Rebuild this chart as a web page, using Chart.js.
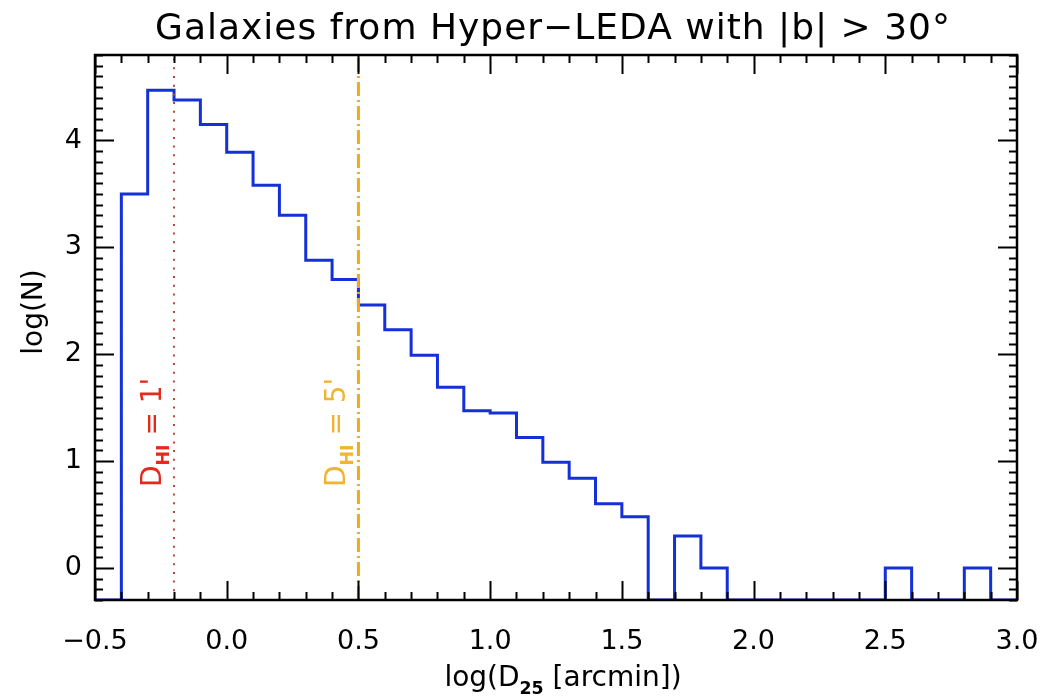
<!DOCTYPE html>
<html>
<head>
<meta charset="utf-8">
<title>Hyper-LEDA D25</title>
<script src="https://cdn.jsdelivr.net/npm/chart.js@4.4.1/dist/chart.umd.min.js"></script>
<style>
    html, body { margin: 0; padding: 0; background: #fff; }
    #wrap { width: 1046px; height: 696px; }
</style>
</head>
<body>
<div id="wrap"><canvas id="histo"></canvas></div>
<script>
// bins de log(D25) com largura 0.1 (bordas esquerdas + borda final)
const binEdges = [-0.4, -0.3, -0.2, -0.1, 0.0, 0.1, 0.2, 0.3, 0.4, 0.5, 0.6, 0.7,
    0.8, 0.9, 1.0, 1.1, 1.2, 1.3, 1.4, 1.5, 1.6, 1.7, 1.8, 1.9, 2.0, 2.1, 2.2,
    2.3, 2.4, 2.5, 2.6, 2.7, 2.8, 2.9, 3.0];
// log(N) por bin, null = bin vazio
const logN = [3.50, 4.47, 4.38, 4.15, 3.89, 3.58, 3.30, 2.88, 2.70, 2.46, 2.23,
    1.99, 1.69, 1.47, 1.45, 1.22, 0.99, 0.84, 0.60, 0.48, null, 0.30, 0.00,
    null, null, null, null, null, null, 0.00, null, null, 0.00, null];

const xTicks = [-0.5, 0.0, 0.5, 1.0, 1.5, 2.0, 2.5, 3.0];
const yTicks = [0, 1, 2, 3, 4];
const X_MIN = -0.5, X_MAX = 3.0;
const Y_MIN = -0.3, Y_MAX = 4.8;

// limites D_HI = 1' e 5'
const hiLimits = [-0.2, 0.5];
const hiLabels = ['1\'', '5\''];

const TITLE = 'Galaxies from Hyper\u2212LEDA with |b| > 30\u00b0';
const FONT = '"DejaVu Sans", "Noto Sans", sans-serif';

// pontos do histograma em degraus (bins vazios caem no fundo do eixo)
function histoPoints() {
    const pts = [{ x: X_MIN, y: Y_MIN }];
    for (let i = 0; i < logN.length; i++) {
        pts.push({ x: binEdges[i], y: logN[i] === null ? Y_MIN : logN[i] });
    }
    const last = logN[logN.length - 1];
    pts.push({ x: binEdges[binEdges.length - 1], y: last === null ? Y_MIN : last });
    return pts;
}

function vline(x) {
    return [{ x: x, y: Y_MIN }, { x: x, y: Y_MAX }];
}

// moldura e ticks para dentro nos 4 lados
const framePlugin = {
    id: 'frame',
    afterDatasetsDraw(chart) {
        const { ctx, chartArea: a, scales } = chart;
        const xs = scales.x, ys = scales.y;
        ctx.save();
        ctx.strokeStyle = '#000';
        ctx.lineWidth = 2;
        ctx.beginPath();
        for (let k = -5; k <= 30; k++) {
            const v = k / 10;
            const px = Math.round(xs.getPixelForValue(v)) + 0.5;
            const len = (k % 5 === 0) ? 19 : 8;
            ctx.moveTo(px, a.bottom); ctx.lineTo(px, a.bottom - len);
            ctx.moveTo(px, a.top); ctx.lineTo(px, a.top + len);
        }
        for (let k = -3; k <= 48; k++) {
            const v = k / 10;
            const py = Math.round(ys.getPixelForValue(v)) + 0.5;
            const len = (k % 10 === 0) ? 19 : 8;
            ctx.moveTo(a.left, py); ctx.lineTo(a.left + len, py);
            ctx.moveTo(a.right, py); ctx.lineTo(a.right - len, py);
        }
        ctx.stroke();
        ctx.lineWidth = 2.5;
        ctx.strokeRect(a.left, a.top, a.right - a.left, a.bottom - a.top);
        ctx.restore();
    }
};

// texto com subscrito, desenhado a partir de (0,0) na linha de base
function drawSubText(ctx, parts, size) {
    let x = 0;
    parts.forEach(p => {
        const s = p.sub ? size * 0.62 : size;
        ctx.font = `${p.sub ? 'bold ' : ''}${s}px ${FONT}`;
        ctx.fillText(p.t, x, p.sub ? size * 0.28 : 0);
        x += ctx.measureText(p.t).width;
    });
    return x;
}

function measureSubText(ctx, parts, size) {
    let w = 0;
    parts.forEach(p => {
        const s = p.sub ? size * 0.62 : size;
        ctx.font = `${p.sub ? 'bold ' : ''}${s}px ${FONT}`;
        w += ctx.measureText(p.t).width;
    });
    return w;
}

const labelsPlugin = {
    id: 'labels',
    afterDraw(chart) {
        const { ctx, scales } = chart;
        ctx.save();
        ctx.textBaseline = 'alphabetic';
        ctx.fillStyle = '#000';

        // titulo
        ctx.save();
        ctx.font = `36px ${FONT}`;
        ctx.letterSpacing = '1px';
        ctx.textAlign = 'center';
        ctx.fillText(TITLE, 553, 39);
        ctx.restore();

        ctx.textAlign = 'left';
        // titulo do eixo x: log(D25 [arcmin])
        const xt = [{ t: 'log(D' }, { t: '25', sub: true }, { t: ' [arcmin])' }];
        const w = measureSubText(ctx, xt, 28);
        ctx.save();
        ctx.translate(563 - w / 2, 686);
        drawSubText(ctx, xt, 28);
        ctx.restore();

        // titulo do eixo y
        ctx.save();
        ctx.translate(42, 312);
        ctx.rotate(-Math.PI / 2);
        ctx.font = `28px ${FONT}`;
        ctx.textAlign = 'center';
        ctx.fillText('log(N)', 0, 0);
        ctx.restore();

        // rotulos verticais D_HI
        const colors = ['#e5291c', '#f0b431'];
        hiLimits.forEach((lim, i) => {
            const px = scales.x.getPixelForValue(lim) - 13;
            ctx.save();
            ctx.fillStyle = colors[i];
            ctx.translate(px, 487);
            ctx.rotate(-Math.PI / 2);
            drawSubText(ctx, [{ t: 'D' }, { t: 'HI', sub: true }, { t: ' = ' + hiLabels[i] }], 28);
            ctx.restore();
        });
        ctx.restore();
    }
};

new Chart(document.getElementById('histo'), {
    type: 'line',
    data: {
        datasets: [
            {
                data: histoPoints(),
                borderColor: '#1530d8',
                borderWidth: 3,
                stepped: true,
                pointRadius: 0,
                fill: false,
                order: 2
            },
            {
                data: vline(hiLimits[0]),
                borderColor: 'rgb(190, 70, 55)',
                borderWidth: 2,
                borderDash: [2, 6.7],
                pointRadius: 0,
                order: 1
            },
            {
                data: vline(hiLimits[1]),
                borderColor: '#f2a81d',
                borderWidth: 3,
                borderDash: [14, 4, 2, 4],
                pointRadius: 0,
                order: 0
            }
        ]
    },
    options: {
        responsive: true,
        maintainAspectRatio: false,
        animation: false,
        events: [],
        layout: { padding: { left: 0, right: 29, top: 55, bottom: 0 } },
        plugins: {
            legend: { display: false },
            tooltip: { enabled: false },
            title: { display: false }
        },
        scales: {
            x: {
                type: 'linear',
                min: X_MIN,
                max: X_MAX,
                grid: { display: false, drawTicks: false },
                border: { display: false },
                afterBuildTicks: s => { s.ticks = xTicks.map(v => ({ value: v })); },
                afterFit: s => { s.height = 96; s.paddingLeft = 0; s.paddingRight = 0; },
                ticks: {
                    color: '#000',
                    padding: 26,
                    maxRotation: 0,
                    font: { family: FONT, size: 27 },
                    callback: v => (v < 0 ? '\u2212' : '') + Math.abs(v).toFixed(1)
                }
            },
            y: {
                type: 'linear',
                min: Y_MIN,
                max: Y_MAX,
                grid: { display: false, drawTicks: false },
                border: { display: false },
                afterBuildTicks: s => { s.ticks = yTicks.map(v => ({ value: v })); },
                afterFit: s => { s.width = 95; s.paddingTop = 0; s.paddingBottom = 0; },
                ticks: {
                    color: '#000',
                    padding: 13,
                    font: { family: FONT, size: 27 },
                    callback: v => String(v)
                }
            }
        }
    },
    plugins: [framePlugin, labelsPlugin]
});
</script>
</body>
</html>
